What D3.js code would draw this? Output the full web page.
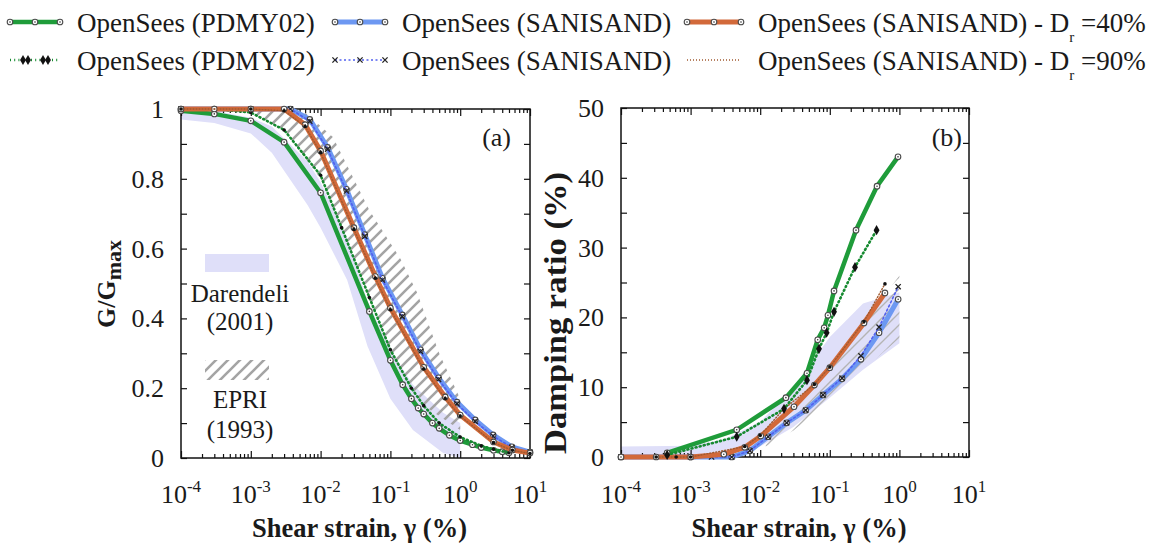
<!DOCTYPE html>
<html>
<head>
<meta charset="utf-8">
<script src="https://cdn.jsdelivr.net/npm/d3@7"></script>
<style>
body { margin: 0; background: #fff; }
svg text { font-family: "Liberation Serif", "DejaVu Serif", serif; fill: #1a1a1a; }
.bold { font-weight: bold; }
</style>
</head>
<body>
<div id="chart"></div>
<script>
// ---- data ----
// panel (a): G/Gmax vs shear strain (%)
var pdmyStrainA   = [1e-4, 3e-4, 1e-3, 3e-3, 0.01, 0.05, 0.1, 0.15, 0.2, 0.25, 0.3, 0.4, 0.5, 0.7, 1, 1.5, 2, 3, 4, 5];
var pdmyGA        = [0.995, 0.986, 0.966, 0.905, 0.76, 0.42, 0.28, 0.21, 0.17, 0.143, 0.126, 0.1, 0.085, 0.065, 0.05, 0.038, 0.03, 0.022, 0.018, 0.015];
var pdmy90StrainA = [1e-4, 3e-4, 1e-3, 3e-3, 0.01, 0.02, 0.05, 0.1, 0.2, 0.3, 0.5, 1, 2, 3, 5];
var pdmy90GA      = [1.0, 1.0, 0.99, 0.94, 0.81, 0.66, 0.46, 0.31, 0.2, 0.15, 0.1, 0.06, 0.035, 0.025, 0.015];
var saniStrainA   = [1e-4, 3e-4, 1e-3, 3.7e-3, 7e-3, 0.0126, 0.0235, 0.043, 0.077, 0.148, 0.27, 0.49, 0.9, 1.64, 2.96, 5.5, 10];
var saniGA        = [1, 1, 1, 1, 0.97, 0.89, 0.77, 0.64, 0.515, 0.41, 0.31, 0.23, 0.16, 0.109, 0.066, 0.032, 0.017];
var sani90StrainA = [1e-4, 1e-3, 3.7e-3, 7e-3, 0.0126, 0.0235, 0.043, 0.077, 0.148, 0.27, 0.49, 0.9, 1.64, 2.96, 5.5, 10];
var sani90GA      = [1, 1, 1, 0.965, 0.885, 0.765, 0.635, 0.51, 0.405, 0.305, 0.225, 0.155, 0.105, 0.063, 0.03, 0.016];
var dr40StrainA   = [1e-4, 3e-4, 1e-3, 3e-3, 6e-3, 0.01, 0.03, 0.061, 0.1, 0.3, 0.61, 1, 3, 5.6, 10];
var dr40GA        = [1, 1, 1, 1, 0.955, 0.88, 0.66, 0.52, 0.43, 0.26, 0.175, 0.123, 0.046, 0.023, 0.014];
var dr90StrainA   = [1e-4, 1e-3, 3e-3, 6e-3, 0.01, 0.03, 0.061, 0.1, 0.3, 0.61, 1, 3, 5.6, 10];
var dr90GA        = [1, 1, 0.995, 0.95, 0.875, 0.655, 0.515, 0.425, 0.255, 0.17, 0.12, 0.044, 0.022, 0.013];
var darStrainA    = [1e-4, 3e-4, 1e-3, 2e-3, 6.5e-3, 0.01, 0.024, 0.047, 0.1, 0.21, 0.57, 1];
var darLowA       = [0.97, 0.96, 0.93, 0.875, 0.725, 0.66, 0.51, 0.32, 0.17, 0.08, 0.014, 0.0];
var darHighA      = [1.0, 0.995, 0.975, 0.95, 0.85, 0.79, 0.63, 0.45, 0.31, 0.21, 0.13, 0.1];
var epriLowStrainA  = [5.7e-4, 1e-3, 3e-3, 0.01, 0.03, 0.1, 0.3, 1];
var epriLowA        = [1.0, 0.99, 0.94, 0.8, 0.57, 0.3, 0.15, 0.08];
var epriHighStrainA = [5.7e-4, 3e-3, 6e-3, 0.015, 0.05, 0.14, 0.24, 0.5, 1];
var epriHighA       = [1, 1, 0.99, 0.92, 0.71, 0.57, 0.475, 0.3, 0.17];

// panel (b): damping ratio (%) vs shear strain (%)
var pdmyStrainB   = [4.6e-4, 4.6e-3, 0.0234, 0.047, 0.067, 0.083, 0.094, 0.115, 0.238, 0.477, 0.955];
var pdmyDB        = [0.6, 3.9, 8.5, 12.0, 16.8, 18.5, 20.3, 23.8, 32.5, 38.8, 43.0];
var pdmy90StrainB = [4.6e-4, 4.6e-3, 0.022, 0.047, 0.07, 0.09, 0.115, 0.23, 0.47];
var pdmy90DB      = [0.3, 2.9, 6.9, 11.0, 15.5, 17.8, 20.8, 27.2, 32.5];
var saniStrainB   = [1e-4, 1e-3, 3.9e-3, 7.1e-3, 0.013, 0.024, 0.045, 0.08, 0.15, 0.28, 0.51, 0.96];
var saniDB        = [0, 0, 0, 0.9, 2.9, 4.9, 6.7, 8.9, 11.2, 14.0, 17.8, 22.6];
var sani90StrainB = [1e-4, 1e-3, 2e-3, 3.9e-3, 7.1e-3, 0.013, 0.024, 0.045, 0.08, 0.15, 0.28, 0.51, 0.96];
var sani90DB      = [0, 0, 0, 0, 0.9, 2.9, 4.9, 6.7, 8.9, 11.3, 14.5, 18.6, 24.4];
var dr40StrainB   = [1e-4, 3.2e-4, 1e-3, 3e-3, 6e-3, 0.0102, 0.0306, 0.06, 0.1, 0.31, 0.62];
var dr40DB        = [0, 0, 0, 0.4, 1.4, 3.0, 7.2, 10.3, 12.8, 19.2, 23.5];
var dr90StrainB   = [3.2e-4, 6.2e-4, 1e-3, 6e-3, 0.01, 0.022, 0.06, 0.1, 0.31, 0.62];
var dr90DB        = [0, 0, 0, 1.5, 3.1, 6.9, 10.4, 12.9, 19.4, 24.8];
var darStrainB    = [1e-4, 1e-3, 3e-3, 0.01, 0.03, 0.1, 0.3, 1];
var darLowB       = [0, 0, 0.2, 1.5, 4.3, 8.5, 12.5, 16.3];
var darHighB      = [1.5, 1.6, 2.5, 5, 10, 17.2, 22, 23.6];
var epriStrainB   = [0.012, 0.03, 0.1, 0.3, 1];
var epriLowB      = [1.5, 3.8, 8, 12.5, 17];
var epriHighB     = [2.8, 6.5, 12.5, 19, 26];

// ticks and labels
var strainTicks = [1e-4, 1e-3, 1e-2, 1e-1, 1, 10];
var strainExp   = ["-4", "-3", "-2", "-1", "0", "1"];
var gTicks      = [0, 0.2, 0.4, 0.6, 0.8, 1];
var gLabels     = ["0", "0.2", "0.4", "0.6", "0.8", "1"];
var gMinor      = [0.1, 0.3, 0.5, 0.7, 0.9];
var dTicks      = [0, 10, 20, 30, 40, 50];
var dMinor      = [5, 15, 25, 35, 45];

var legendRows = [
  [{name: "OpenSees (PDMY02)", key: "pdmy"}, {name: "OpenSees (SANISAND)", key: "sani"}, {name: "OpenSees (SANISAND) - D", sub: "r", tail: "=40%", key: "dr40"}],
  [{name: "OpenSees (PDMY02)", key: "pdmy90"}, {name: "OpenSees (SANISAND)", key: "sani90"}, {name: "OpenSees (SANISAND) - D", sub: "r", tail: "=90%", key: "dr90"}]
];

var GREEN = "#1f9c3a", BLUE = "#6d98f2", ORANGE = "#d2693a", LAV = "#dfdff9";
var FONT = "'Liberation Serif', 'DejaVu Serif', serif";

var svg = d3.select("#chart").append("svg")
    .attr("width", 1163)
    .attr("height", 545)
    .attr("font-family", FONT);

var defs = svg.append("defs");
function hatchPattern(id, color, w) {
  var p = defs.append("pattern")
      .attr("id", id)
      .attr("patternUnits", "userSpaceOnUse")
      .attr("width", 12).attr("height", 12);
  p.append("path")
      .attr("d", "M-3,3L3,-3M0,12L12,0M9,15L15,9")
      .attr("stroke", color)
      .attr("stroke-width", w);
}
hatchPattern("hatch", "#a4a4a4", 2.6);
hatchPattern("hatchB", "#b4b4b4", 1.4);

var xA = d3.scaleLog().domain([1e-4, 10]).range([181, 530]);
var yA = d3.scaleLinear().domain([0, 1]).range([458, 109]);
var xB = d3.scaleLog().domain([1e-4, 10]).range([621, 969]);
var yB = d3.scaleLinear().domain([0, 50]).range([457, 108]);

function pts(xs, ys) { return d3.zip(xs, ys); }

function txt(x, y, size) {
  return svg.append("text")
      .attr("x", x).attr("y", y)
      .attr("font-family", FONT)
      .style("font-size", size + "px");
}

function drawFrame(x, y, majorY, minorY, yLab, id) {
  var x0 = x.range()[0], x1 = x.range()[1], y0 = y.range()[0], y1 = y.range()[1];
  defs.append("clipPath").attr("id", id).append("rect")
      .attr("x", x0).attr("y", y1).attr("width", x1 - x0).attr("height", y0 - y1);

  var minorX = x.ticks().filter(function(d) { return strainTicks.indexOf(d) < 0; });
  var g = svg.append("g").attr("class", "axes");

  // inward ticks on all four sides
  [[d3.axisBottom, y0], [d3.axisTop, y1]].forEach(function(a) {
    g.append("g").attr("transform", "translate(0," + a[1] + ")")
      .call(a[0](x).tickValues(strainTicks).tickSize(-7).tickSizeOuter(0).tickFormat(""));
    g.append("g").attr("transform", "translate(0," + a[1] + ")")
      .call(a[0](x).tickValues(minorX).tickSize(-4).tickSizeOuter(0).tickFormat(""));
  });
  [[d3.axisLeft, x0], [d3.axisRight, x1]].forEach(function(a) {
    g.append("g").attr("transform", "translate(" + a[1] + ",0)")
      .call(a[0](y).tickValues(majorY.concat(minorY)).tickSize(-6).tickSizeOuter(0).tickFormat(""));
  });
  g.selectAll(".domain").remove();
  g.selectAll(".tick line").attr("stroke", "#111").attr("stroke-width", 1.2);

  // x tick labels 10^n
  strainTicks.forEach(function(t, i) {
    var tx = txt(x(t), 503, 26).attr("text-anchor", "middle");
    tx.append("tspan").text("10");
    tx.append("tspan").attr("dy", -11).style("font-size", "17px").text(strainExp[i]);
  });
  // y tick labels
  majorY.forEach(function(t, i) {
    txt(x0 - 17, y(t) + 9, 26).attr("text-anchor", "end").text(yLab[i]);
  });

  svg.append("rect")
      .attr("x", x0).attr("y", y1).attr("width", x1 - x0).attr("height", y0 - y1)
      .attr("fill", "none").attr("stroke", "#111").attr("stroke-width", 1.5);

  txt((x0 + x1) / 2 + 4, 537, 26.5).attr("class", "bold")
      .attr("text-anchor", "middle")
      .text("Shear strain, \u03b3 (%)");
}

function band(x, y, xs, lo, hi, clip) {
  svg.append("path")
      .datum(d3.range(xs.length))
      .attr("d", d3.area().x(function(i) { return x(xs[i]); })
          .y0(function(i) { return y(lo[i]); })
          .y1(function(i) { return y(hi[i]); }))
      .attr("fill", LAV)
      .attr("clip-path", "url(#" + clip + ")");
}

function hatched(x, y, hiXs, hi, loXs, lo, clip, pat) {
  var poly = pts(hiXs, hi).concat(pts(loXs, lo).reverse());
  svg.append("path")
      .attr("d", d3.line().x(function(d) { return x(d[0]); }).y(function(d) { return y(d[1]); })(poly) + "Z")
      .attr("fill", "url(#" + pat + ")")
      .attr("clip-path", "url(#" + clip + ")");
}

function curve(x, y, xs, ys, style) {
  var line = d3.line()
      .x(function(d) { return x(d[0]); })
      .y(function(d) { return y(d[1]); })
      .curve(d3.curveLinear);
  var data = pts(xs, ys);
  var g = svg.append("g");
  g.append("path")
      .attr("d", line(data))
      .attr("fill", "none")
      .attr("stroke", style.color)
      .attr("stroke-width", style.width)
      .attr("stroke-dasharray", style.dash || null)
      .attr("stroke-linecap", style.dash ? "round" : "butt");
  markers(g, data.map(function(d) { return [x(d[0]), y(d[1])]; }), style.mark);
}

function markers(g, p, kind) {
  if (kind === "circle") {
    g.selectAll(null).data(p).join("circle")
        .attr("cx", function(d) { return d[0]; }).attr("cy", function(d) { return d[1]; })
        .attr("r", 2.8).attr("fill", "#fff").attr("stroke", "#4a4a4a").attr("stroke-width", 1.1);
    g.selectAll(null).data(p).join("circle")
        .attr("cx", function(d) { return d[0]; }).attr("cy", function(d) { return d[1]; })
        .attr("r", 0.8).attr("fill", "#333");
  } else if (kind === "dot") {
    g.selectAll(null).data(p).join("circle")
        .attr("cx", function(d) { return d[0]; }).attr("cy", function(d) { return d[1]; })
        .attr("r", 1.8).attr("fill", "#111");
  } else if (kind === "diamond") {
    g.selectAll(null).data(p).join("path")
        .attr("transform", function(d) { return "translate(" + d[0] + "," + d[1] + ")"; })
        .attr("d", d3.symbol(d3.symbolDiamond, 30)())
        .attr("fill", "#111");
  } else if (kind === "cross") {
    g.selectAll(null).data(p).join("path")
        .attr("transform", function(d) { return "translate(" + d[0] + "," + d[1] + ")"; })
        .attr("d", "M-2.6,-2.6L2.6,2.6M-2.6,2.6L2.6,-2.6")
        .attr("stroke", "#222").attr("stroke-width", 1.3);
  }
}

var styles = {
  pdmy:   {color: GREEN,  width: 4.5, mark: "circle"},
  pdmy90: {color: "#168a30", width: 2.6, dash: "1,3.2", mark: "dot"},
  sani:   {color: BLUE,   width: 5,   mark: "circle"},
  sani90: {color: "#5260f0", width: 1.6, dash: "2,2.5", mark: "cross"},
  dr40:   {color: ORANGE, width: 5,   mark: "circle"},
  dr90:   {color: "#a05a30", width: 1.4, dash: "1,2", mark: "dot"}
};

// ---- panel (a) ----
band(xA, yA, darStrainA, darLowA, darHighA, "clipA");
drawFrame(xA, yA, gTicks, gMinor, gLabels, "clipA");
hatched(xA, yA, epriHighStrainA, epriHighA, epriLowStrainA, epriLowA, "clipA", "hatch");
curve(xA, yA, saniStrainA, saniGA, styles.sani);
curve(xA, yA, sani90StrainA, sani90GA, styles.sani90);
curve(xA, yA, pdmyStrainA, pdmyGA, styles.pdmy);
curve(xA, yA, pdmy90StrainA, pdmy90GA, styles.pdmy90);
curve(xA, yA, dr40StrainA, dr40GA, styles.dr40);
curve(xA, yA, dr90StrainA, dr90GA, styles.dr90);

// ---- panel (b) ----
band(xB, yB, darStrainB, darLowB, darHighB, "clipB");
drawFrame(xB, yB, dTicks, dMinor, dTicks.map(String), "clipB");
hatched(xB, yB, epriStrainB, epriHighB, epriStrainB, epriLowB, "clipB", "hatchB");
curve(xB, yB, saniStrainB, saniDB, styles.sani);
curve(xB, yB, sani90StrainB, sani90DB, styles.sani90);
curve(xB, yB, dr40StrainB, dr40DB, styles.dr40);
curve(xB, yB, dr90StrainB, dr90DB, styles.dr90);
curve(xB, yB, pdmyStrainB, pdmyDB, styles.pdmy);
curve(xB, yB, pdmy90StrainB, pdmy90DB, Object.assign({}, styles.pdmy90, {mark: "diamond"}));

// panel tags
txt(511, 146, 26).attr("text-anchor", "end").text("(a)");
txt(962, 146, 26).attr("text-anchor", "end").text("(b)");

// y axis titles
var gl = svg.append("text").attr("class", "bold")
    .attr("transform", "translate(115,284) rotate(-90)")
    .attr("text-anchor", "middle")
    .attr("font-family", FONT)
    .style("font-size", "26px");
gl.append("tspan").text("G/G");
gl.append("tspan").attr("dy", 6).style("font-size", "22px").text("max");

svg.append("text").attr("class", "bold")
    .attr("transform", "translate(566,313) rotate(-90)")
    .attr("text-anchor", "middle")
    .attr("font-family", FONT)
    .attr("textLength", 282)
    .attr("lengthAdjust", "spacingAndGlyphs")
    .style("font-size", "31px")
    .text("Damping ratio (%)");

// in-plot reference legend (a)
svg.append("rect").attr("x", 205).attr("y", 254).attr("width", 64).attr("height", 18).attr("fill", LAV);
svg.append("rect").attr("x", 205).attr("y", 360).attr("width", 64).attr("height", 20).attr("fill", "url(#hatch)");
[["Darendeli", 302], ["(2001)", 330], ["EPRI", 408], ["(1993)", 438]].forEach(function(t) {
  txt(240, t[1], 25).attr("text-anchor", "middle").text(t[0]);
});

// ---- top legend ----
var colLine = [[10, 60], [335, 385], [687, 741]];
var rowY = [22, 60];
legendRows.forEach(function(row, r) {
  row.forEach(function(item, c) {
    var st = styles[item.key];
    var l = colLine[c], yy = rowY[r];
    var g = svg.append("g");
    g.append("line")
        .attr("x1", l[0]).attr("x2", l[1]).attr("y1", yy).attr("y2", yy)
        .attr("stroke", st.color).attr("stroke-width", st.width)
        .attr("stroke-dasharray", st.dash || null);
    if (st.mark !== "dot" || item.key === "pdmy90") {
      var mk = item.key === "pdmy90" ? "diamond" : st.mark;
      var mx = item.key === "pdmy90" ? [l[0] + 13, l[0] + 18, l[0] + 33, l[0] + 38] : [l[0], (l[0] + l[1]) / 2, l[1]];
      markers(g, mx.map(function(v) { return [v, yy]; }), mk);
    }
    var t = txt(l[1] + 17, yy + 10, 27);
    t.append("tspan").text(item.name);
    if (item.sub) {
      t.append("tspan").attr("dy", 10).style("font-size", "15px").text(item.sub);
      t.append("tspan").attr("dy", -10).text("\u00a0" + item.tail);
    }
  });
});
</script>
</body>
</html>
